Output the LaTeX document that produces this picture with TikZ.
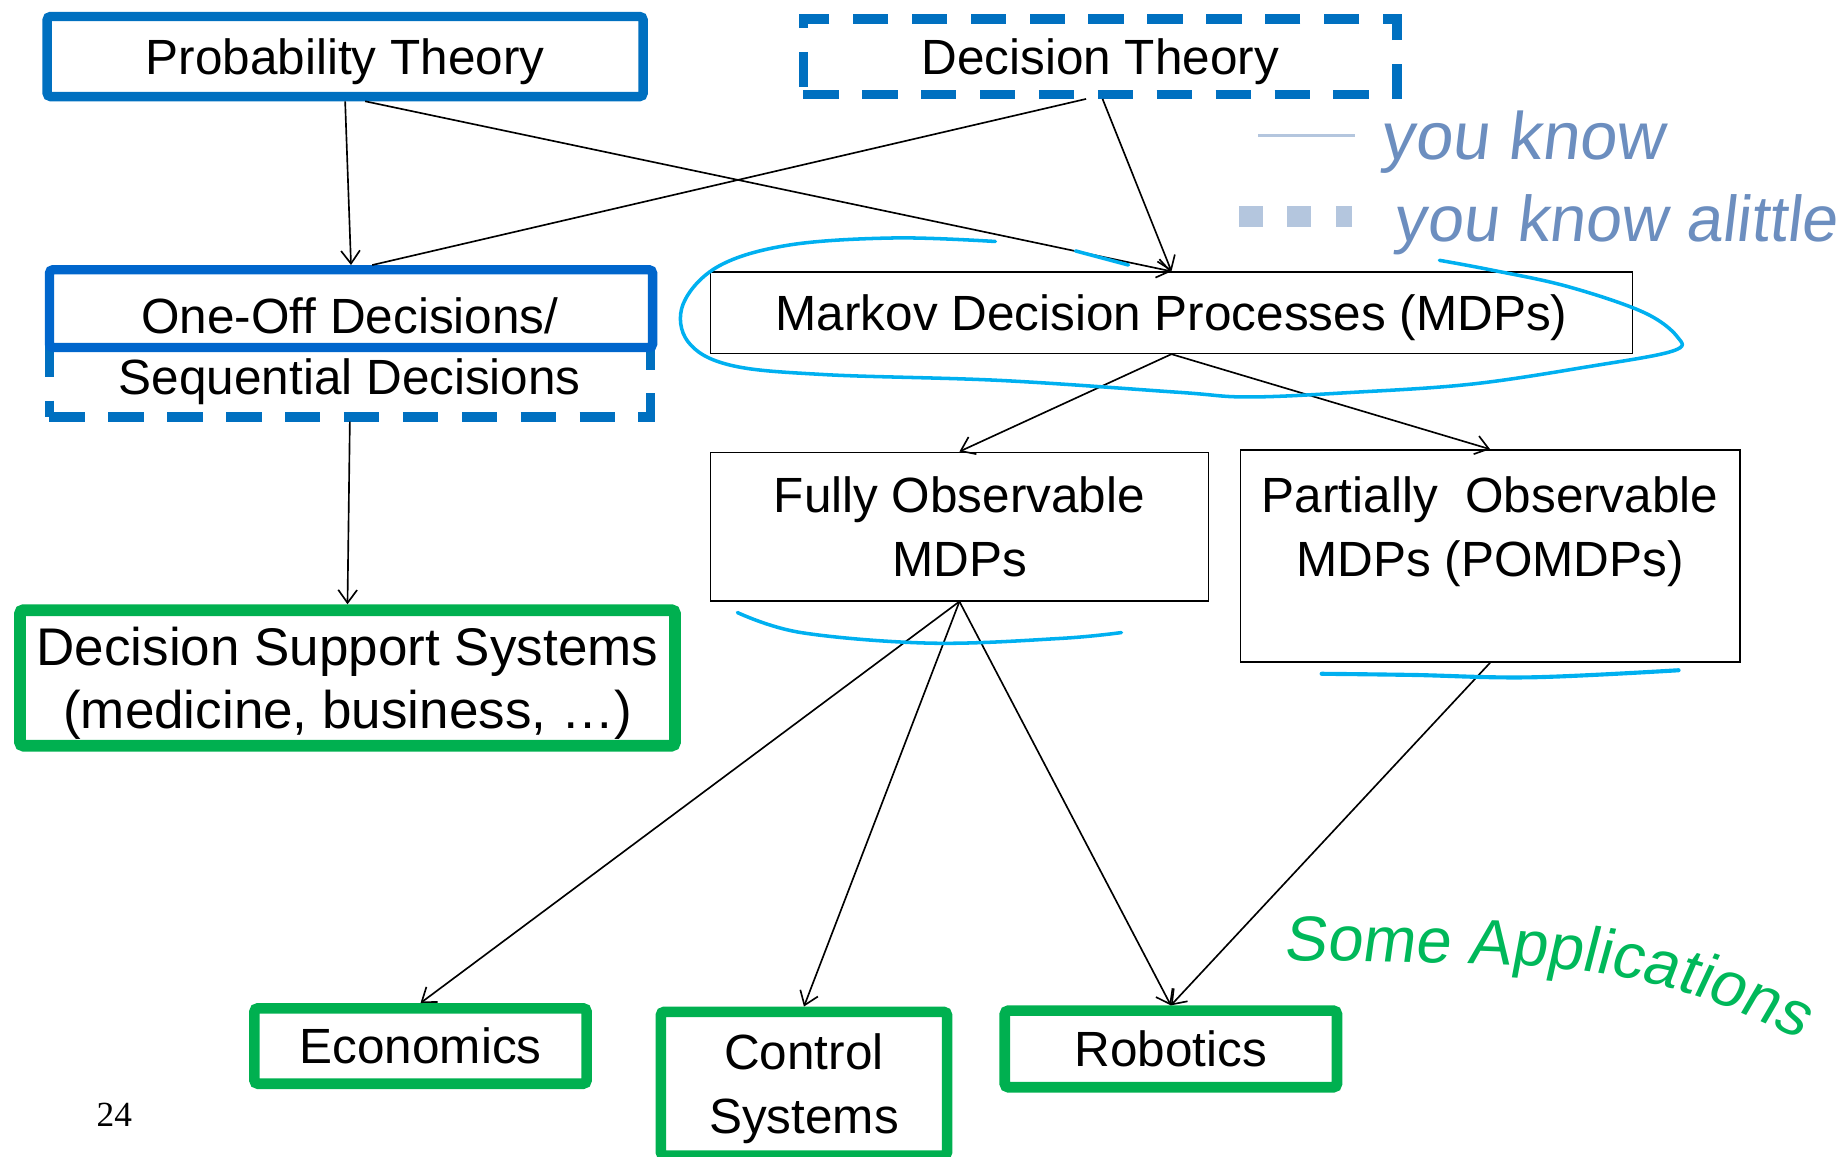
\documentclass[tikz,border=0pt]{standalone}
\usepackage{fontspec}
\setmainfont{Liberation Sans}
\newfontfamily\serifnum{Liberation Serif}
\newfontfamily\handfont[FakeSlant=0.12]{Liberation Sans}
\usetikzlibrary{arrows.meta,calc,decorations.text}

\definecolor{boxblue}{RGB}{0,112,192}
\definecolor{boxblueb}{RGB}{0,102,204}
\definecolor{appgreen}{RGB}{0,176,80}
\definecolor{inkcyan}{RGB}{0,176,240}
\definecolor{inkblue}{RGB}{108,142,191}
\definecolor{inklight}{RGB}{180,198,222}
\definecolor{inkgreen}{RGB}{0,184,90}

\begin{document}
\begin{tikzpicture}[x=1pt,y=-1pt,
  lbl/.style={font=\fontsize{42}{54}\selectfont, align=center, inner sep=0pt, text depth=0pt},
  solidblue/.style={draw=boxblue, line width=8pt, rounded corners=3pt, fill=white, inner sep=0pt},
  dashblue/.style={draw=boxblue, line width=8pt, dash pattern=on 30pt off 20pt, inner sep=0pt},
  thinbox/.style={draw=black, line width=1.3pt, inner sep=0pt},
  greenbox/.style={draw=appgreen, line width=9pt, rounded corners=3pt, inner sep=0pt},
  conn/.style={line width=1.4pt, -{Straight Barb[length=11pt,width=16pt]}},
  plainconn/.style={line width=1.4pt},
  ink/.style={draw=inkcyan, line width=3pt, line cap=round, line join=round},
]
\useasboundingbox (0,0) rectangle (1568,982);

% top boxes
\node[solidblue, minimum width=506pt, minimum height=68pt, lbl] (prob) at (293,48) {Probability Theory};
\node[dashblue, minimum width=504pt, minimum height=64pt, lbl] (dt) at (934,48) {Decision Theory};

% one-off / sequential
\node[dashblue, minimum width=510pt, minimum height=122pt] (seq) at (297,293) {};
\node[solidblue, draw=boxblueb, minimum width=512pt, minimum height=66pt] (oneoff) at (298,262) {};
\node[lbl] (oneoffT) at (297,268) {One-Off Decisions/};
\node[lbl] (seqT) at (297,320) {Sequential Decisions};

% MDP boxes
\node[thinbox, minimum width=783pt, minimum height=69pt, lbl] (mdp) at (994.5,265.5) {Markov Decision Processes (MDPs)};
\node[thinbox, minimum width=423pt, minimum height=126pt, lbl] (fully) at (814.5,447) {Fully Observable\\MDPs};
\node[thinbox, minimum width=424pt, minimum height=180pt] (pomdp) at (1265,472) {};
\node[lbl] (pomdpT) at (1265,447) {Partially\ \ Observable\\MDPs (POMDPs)};

% applications
\node[greenbox, line width=10pt, minimum width=556pt, minimum height=115pt, lbl, font=\fontsize{45}{54}\selectfont] (dss) at (295,575.5) {Decision Support Systems\\(medicine, business, \dots)};
\node[greenbox, minimum width=282pt, minimum height=64pt, lbl] (econ) at (357,888) {Economics};
\node[greenbox, minimum width=243pt, minimum height=122pt, lbl] (control) at (682.5,920) {Control\\Systems};
\node[greenbox, minimum width=282pt, minimum height=65pt, lbl] (robot) at (994,890.5) {Robotics};

% page number
\node[font=\serifnum\fontsize{30}{34}\selectfont, inner sep=0pt] (pagenum) at (97,946) {24};

% connectors
\draw[conn] (prob.south) -- (oneoff.north);
\draw[conn] ($(prob.south)+(17,0)$) -- (mdp.north);
\draw[plainconn] ($(dt.south)+(-12,0)$) -- ($(oneoff.north)+(18,0)$);
\draw[conn] ($(dt.south)+(2,0)$) -- (mdp.north);
\draw[conn] (seq.south) -- (dss.north);
\draw[conn] (mdp.south) -- (fully.north);
\draw[conn] (mdp.south) -- (pomdp.north);
\draw[conn] (fully.south) -- (econ.north);
\draw[conn] (fully.south) -- (control.north);
\draw[conn] (fully.south) -- (robot.north);
\draw[conn] (pomdp.south) -- (robot.north);

% legend ink
\draw[draw=inklight, line width=3pt] (1068,115) -- (1150,115);
\draw[draw=inklight, line width=18pt, dash pattern=on 20pt off 21pt] (1052,184) -- (1148,184);
\node[font=\handfont\fontsize{57}{60}\selectfont, text=inkblue, anchor=base west, inner sep=0pt] (know1) at (1172,135) {you know};
\node[font=\handfont\fontsize{55}{60}\selectfont, text=inkblue, anchor=base west, inner sep=0pt] (know2) at (1183,205) {you know alittle};

% cyan ink around MDP
\draw[ink] plot[smooth, tension=0.6] coordinates {(845,205) (760,202) (670,208) (610,226) (580,258) (584,290) (620,310) (700,318) (850,323) (1000,333) (1060,337) (1150,333) (1250,326) (1350,311) (1420,298) (1424,286) (1395,265) (1330,243) (1265,229) (1222,221)};
\draw[ink] (913,213) -- (958,225);
\draw[ink] plot[smooth, tension=0.6] coordinates {(626,520) (680,537) (790,546) (900,542) (952,537)};
\draw[ink, line width=3.5pt] plot[smooth, tension=0.6] coordinates {(1122,572) (1200,573) (1300,575) (1425,569)};

% green handwriting
\path[decorate, decoration={text along path, text align=left,
  text={|\handfont\fontsize{54}{58}\selectfont\color{inkgreen}|Some Applications}}]
  (1090,815) -- (1250,818) .. controls (1380,822) and (1450,838) .. (1570,905);
\end{tikzpicture}
\end{document}
